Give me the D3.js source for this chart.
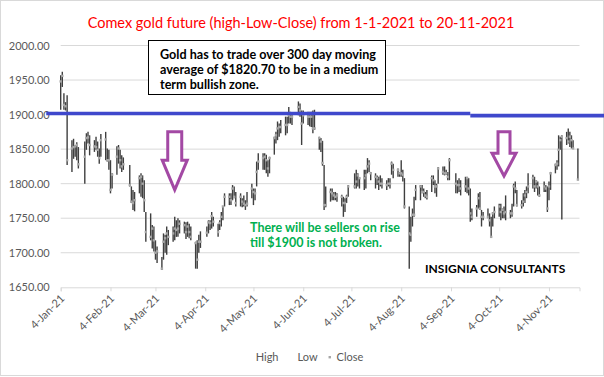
<!DOCTYPE html>
<html>
<head>
<meta charset="utf-8">
<script src="https://cdn.jsdelivr.net/npm/d3@7"></script>
<style>
  body { margin: 0; background: #fff; }
  svg { display: block; font-family: Lato, "Open Sans", sans-serif; }
</style>
</head>
<body>
<svg class="main" width="604" height="377"></svg>
<script>
(function () {
  'use strict';

  // trading days, one line per month (MM-DD, 2021)
  const dates = [
    "01-04","01-05","01-06","01-07","01-08","01-11","01-12","01-13","01-14","01-15","01-19","01-20","01-21","01-22","01-25","01-26","01-27","01-28","01-29",
    "02-01","02-02","02-03","02-04","02-05","02-08","02-09","02-10","02-11","02-12","02-16","02-17","02-18","02-19","02-22","02-23","02-24","02-25","02-26",
    "03-01","03-02","03-03","03-04","03-05","03-08","03-09","03-10","03-11","03-12","03-15","03-16","03-17","03-18","03-19","03-22","03-23","03-24","03-25","03-26","03-29","03-30","03-31",
    "04-01","04-05","04-06","04-07","04-08","04-09","04-12","04-13","04-14","04-15","04-16","04-19","04-20","04-21","04-22","04-23","04-26","04-27","04-28","04-29","04-30",
    "05-03","05-04","05-05","05-06","05-07","05-10","05-11","05-12","05-13","05-14","05-17","05-18","05-19","05-20","05-21","05-24","05-25","05-26","05-27","05-28",
    "06-01","06-02","06-03","06-04","06-07","06-08","06-09","06-10","06-11","06-14","06-15","06-16","06-17","06-18","06-21","06-22","06-23","06-24","06-25","06-28","06-29","06-30",
    "07-01","07-02","07-06","07-07","07-08","07-09","07-12","07-13","07-14","07-15","07-16","07-19","07-20","07-21","07-22","07-23","07-26","07-27","07-28","07-29","07-30",
    "08-02","08-03","08-04","08-05","08-06","08-09","08-10","08-11","08-12","08-13","08-16","08-17","08-18","08-19","08-20","08-23","08-24","08-25","08-26","08-27","08-30","08-31",
    "09-01","09-02","09-03","09-07","09-08","09-09","09-10","09-13","09-14","09-15","09-16","09-17","09-20","09-21","09-22","09-23","09-24","09-27","09-28","09-29","09-30",
    "10-01","10-04","10-05","10-06","10-07","10-08","10-11","10-12","10-13","10-14","10-15","10-18","10-19","10-20","10-21","10-22","10-25","10-26","10-27","10-28","10-29",
    "11-01","11-02","11-03","11-04","11-05","11-08","11-09","11-10","11-11","11-12","11-15","11-16","11-17","11-18","11-19","11-22"
  ];

  const high = [
    1957,1962,1931,1918,1928,1863,1865,1856,1860,1853,1861,1873,1875,1870,1863,1868,1861,1851,1872,
    1875,1851,1849,1834,1815,1854,1856,1849,1841,1838,1827,1796,1791,1788,1812,1815,1812,1805,1759,
    1757,1740,1738,1718,1709,1694,1728,1726,1738,1733,1738,1752,1747,1750,1747,1745,1744,1745,1742,1738,1716,1718,1726,
    1731,1738,1747,1747,1759,1752,1742,1747,1759,1767,1786,1786,1786,1798,1796,1788,1786,1779,1783,1776,1788,
    1800,1793,1793,1832,1844,1844,1844,1842,1834,1839,1868,1875,1890,1887,1892,1897,1897,1911,1904,1902,
    1919,1916,1906,1906,1904,1904,1904,1906,1907,1868,1866,1862,1827,1796,1793,1793,1788,1788,1786,1784,1781,1779,
    1784,1798,1815,1820,1815,1808,1820,1820,1837,1834,1817,1815,1812,1810,1812,1808,1805,1808,1808,1832,1829,
    1822,1817,1834,1820,1808,1767,1752,1764,1781,1798,1798,1798,1793,1788,1791,1812,1812,1805,1800,1824,1825,1825,
    1820,1817,1837,1815,1805,1808,1805,1810,1810,1808,1793,1764,1769,1786,1788,1762,1759,1764,1757,1752,1759,
    1767,1771,1771,1764,1767,1783,1762,1771,1800,1803,1791,1776,1786,1791,1796,1815,1813,1810,1805,1803,1796,
    1803,1798,1796,1803,1817,1829,1834,1870,1868,1870,1875,1880,1875,1870,1863,1851
  ];

  const low = [
    1907,1940,1907,1906,1827,1817,1836,1839,1834,1822,1800,1849,1858,1841,1846,1849,1839,1829,1839,
    1834,1832,1820,1786,1793,1813,1829,1822,1817,1820,1796,1772,1762,1760,1786,1781,1779,1759,1716,
    1718,1706,1702,1690,1685,1675,1690,1700,1697,1711,1716,1718,1723,1723,1728,1728,1720,1723,1721,1718,1677,1677,1700,
    1707,1723,1728,1733,1735,1738,1723,1733,1738,1747,1767,1769,1769,1776,1779,1767,1767,1766,1767,1762,1767,
    1779,1769,1776,1796,1820,1820,1820,1815,1810,1815,1842,1858,1863,1868,1873,1870,1873,1887,1887,1885,
    1899,1897,1856,1887,1885,1883,1882,1873,1878,1849,1846,1826,1762,1766,1774,1776,1776,1776,1774,1767,1752,1759,
    1772,1781,1793,1793,1796,1793,1791,1793,1815,1817,1805,1793,1798,1791,1796,1793,1791,1796,1793,1813,1808,
    1810,1810,1810,1803,1764,1677,1716,1738,1752,1776,1776,1786,1781,1779,1777,1788,1798,1786,1781,1800,1813,1812,
    1813,1805,1805,1786,1786,1788,1783,1788,1786,1783,1745,1747,1752,1764,1762,1738,1747,1750,1738,1723,1738,
    1750,1752,1747,1750,1750,1747,1750,1752,1767,1786,1767,1764,1767,1772,1779,1786,1793,1788,1793,1783,1781,
    1788,1788,1759,1776,1791,1815,1820,1825,1849,1748,1856,1858,1853,1851,1851,1805
  ];

  const close = [
    1948,1956,1914,1912,1834,1851,1853,1854,1856,1828,1839,1866,1867,1856,1854,1853,1849,1837,1863,
    1864,1834,1834,1791,1813,1839,1851,1834,1825,1828,1798,1774,1772,1776,1808,1810,1800,1776,1730,
    1723,1735,1718,1700,1702,1677,1716,1721,1728,1723,1728,1735,1733,1735,1742,1740,1730,1738,1730,1723,1714,1690,1716,
    1716,1729,1744,1743,1753,1745,1730,1743,1752,1767,1781,1781,1776,1793,1781,1772,1781,1774,1771,1769,1771,
    1793,1788,1786,1817,1832,1837,1839,1834,1822,1837,1866,1870,1880,1882,1882,1885,1885,1899,1897,1897,
    1911,1906,1887,1899,1897,1897,1897,1880,1880,1866,1861,1830,1769,1769,1788,1786,1783,1781,1783,1781,1772,1772,
    1781,1796,1796,1803,1812,1808,1808,1812,1825,1829,1815,1810,1808,1803,1800,1800,1798,1800,1800,1829,1820,
    1820,1815,1815,1813,1767,1728,1726,1755,1755,1791,1796,1788,1788,1783,1781,1808,1805,1796,1796,1822,1817,1815,
    1815,1810,1834,1800,1798,1798,1793,1796,1808,1793,1757,1752,1764,1779,1764,1752,1752,1752,1747,1723,1757,
    1759,1767,1759,1762,1757,1759,1757,1757,1796,1793,1769,1769,1774,1783,1788,1796,1808,1796,1803,1796,1783,
    1796,1793,1764,1796,1815,1827,1829,1849,1863,1868,1866,1861,1868,1863,1851,1806
  ];

  const monthTicks = [
    "2021-01-04","2021-02-04","2021-03-04","2021-04-04","2021-05-04","2021-06-04",
    "2021-07-04","2021-08-04","2021-09-04","2021-10-04","2021-11-04"
  ];
  const yTicks = [1650, 1700, 1750, 1800, 1850, 1900, 1950, 2000];
  const legendItems = ["High", "Low", "Close"];

  // hand-drawn 1900 resistance line and the two "down" arrows
  const resistance = [
    { from: "2020-12-26", to: "2021-09-16", level: 1901.5 },
    { from: "2021-09-16", to: "2021-12-31", level: 1898.5 }
  ];
  const arrows = [
    { date: "2021-03-16", top: 1875, neck: 1834, tip: 1791, shaft: 7, head: 12.5 },
    { date: "2021-10-07", top: 1875, neck: 1844, tip: 1811, shaft: 6, head: 12 }
  ];

  const title = "Comex gold future (high-Low-Close) from 1-1-2021 to 20-11-2021";
  const noteLines = [
    "Gold has to trade over 300 day moving",
    "average of $1820.70 to be in a medium",
    "term bullish zone."
  ];
  const sellerLines = ["There will be sellers on rise", "till $1900 is not broken."];
  const brand = "INSIGNIA CONSULTANTS";

  const parse = d3.utcParse("%Y-%m-%d");
  const bars = dates.map((d, i) => ({
    date: parse("2021-" + d),
    high: high[i],
    low: low[i],
    close: close[i]
  }));

  const svg = d3.select("svg.main");
  const grey = "#595959";
  const gridColor = "#d9d9d9";

  const x = d3.scaleUtc()
    .domain([parse("2021-01-04"), parse("2021-11-23")])
    .range([60.7, 579.5]);
  const y = d3.scaleLinear().domain([1650, 2000]).range([287.3, 45.5]);

  // outer chart border
  svg.append("rect")
    .attr("x", 0.5).attr("y", 0.5)
    .attr("width", 603).attr("height", 375)
    .attr("fill", "#fff")
    .attr("stroke", gridColor);

  svg.append("text")
    .text(title)
    .attr("x", 301).attr("y", 28)
    .attr("text-anchor", "middle")
    .attr("fill", "#ff0000")
    .style("font-size", "14.5px");

  // gridlines
  svg.append("g")
    .selectAll("line")
    .data(yTicks.slice(1))
    .join("line")
    .attr("x1", x.range()[0]).attr("x2", x.range()[1])
    .attr("y1", d => y(d)).attr("y2", d => y(d))
    .attr("stroke", gridColor);

  const yAxis = svg.append("g")
    .attr("transform", `translate(${x.range()[0]},0)`)
    .call(d3.axisLeft(y).tickValues(yTicks).tickFormat(d3.format(".2f")).tickSize(0).tickPadding(11));
  yAxis.select(".domain").remove();
  yAxis.selectAll("text")
    .attr("fill", grey)
    .style("font-family", "Lato, sans-serif")
    .style("font-size", "11px");

  const xAxis = svg.append("g")
    .attr("transform", `translate(0,${y(1650)})`)
    .call(d3.axisBottom(x)
      .tickValues(monthTicks.map(parse))
      .tickFormat(d3.utcFormat("%-d-%b-%y"))
      .tickSize(4));
  xAxis.select(".domain").attr("stroke", gridColor);
  xAxis.selectAll(".tick line").attr("stroke", gridColor);
  xAxis.selectAll("text")
    .attr("fill", grey)
    .attr("y", null).attr("dy", null)
    .attr("text-anchor", "end")
    .attr("transform", "translate(4,12) rotate(-45)")
    .style("font-family", "Lato, sans-serif")
    .style("font-size", "11px");

  // high-low bars with close markers
  const hl = svg.append("g");
  hl.selectAll("line")
    .data(bars)
    .join("line")
    .attr("x1", d => x(d.date)).attr("x2", d => x(d.date))
    .attr("y1", d => y(d.high)).attr("y2", d => y(d.low))
    .attr("stroke", "#3f3f3f")
    .attr("stroke-width", 1.4);
  hl.selectAll("rect")
    .data(bars)
    .join("rect")
    .attr("x", d => x(d.date) - 1.2).attr("y", d => y(d.close) - 1.2)
    .attr("width", 2.4).attr("height", 2.4)
    .attr("fill", "#a6a6a6");

  // resistance line
  svg.append("g")
    .selectAll("line")
    .data(resistance)
    .join("line")
    .attr("x1", d => x(parse(d.from))).attr("x2", d => x(parse(d.to)))
    .attr("y1", d => y(d.level)).attr("y2", d => y(d.level))
    .attr("stroke", "#3f48cc")
    .attr("stroke-width", 3.6);

  // hollow down arrows
  svg.append("g")
    .selectAll("path")
    .data(arrows)
    .join("path")
    .attr("d", d => {
      const cx = x(parse(d.date));
      return d3.line()([
        [cx - d.shaft, y(d.top)], [cx + d.shaft, y(d.top)],
        [cx + d.shaft, y(d.neck)], [cx + d.head, y(d.neck)],
        [cx, y(d.tip)],
        [cx - d.head, y(d.neck)], [cx - d.shaft, y(d.neck)]
      ]) + "Z";
    })
    .attr("fill", "#fff")
    .attr("stroke", "#a349a4")
    .attr("stroke-width", 3)
    .attr("stroke-linejoin", "miter");

  // note box
  const note = svg.append("g");
  note.append("rect")
    .attr("x", 148.5).attr("y", 40.5)
    .attr("width", 237).attr("height", 54)
    .attr("fill", "#fff")
    .attr("stroke", "#000");
  note.selectAll("text")
    .data(noteLines)
    .join("text")
    .text(d => d)
    .attr("x", 160)
    .attr("y", (d, i) => 59 + i * 15)
    .attr("font-weight", "bold")
    .style("font-size", "12.6px");

  svg.append("g")
    .selectAll("text")
    .data(sellerLines)
    .join("text")
    .text(d => d)
    .attr("x", 250)
    .attr("y", (d, i) => 232 + i * 15)
    .attr("fill", "#00b050")
    .attr("font-weight", "bold")
    .style("font-size", "12.5px");

  svg.append("text")
    .text(brand)
    .attr("x", 425).attr("y", 273)
    .attr("font-weight", "bold")
    .style("font-size", "12px");

  // legend
  const legend = svg.append("g").attr("transform", "translate(0,361)");
  let lx = 0;
  legendItems.forEach(name => {
    const item = legend.append("g").attr("transform", `translate(${lx},0)`);
    if (name === "Close") {
      item.append("rect")
        .attr("x", 5).attr("y", -5)
        .attr("width", 2.4).attr("height", 2.4)
        .attr("fill", "#a6a6a6");
    }
    const t = item.append("text")
      .text(name)
      .attr("x", 13)
      .attr("fill", grey)
      .style("font-size", "11px");
    lx += 13 + t.node().getComputedTextLength() + 6;
  });
  legend.attr("transform", `translate(${303 - (lx - 6) / 2},361)`);
}());
</script>
</body>
</html>
